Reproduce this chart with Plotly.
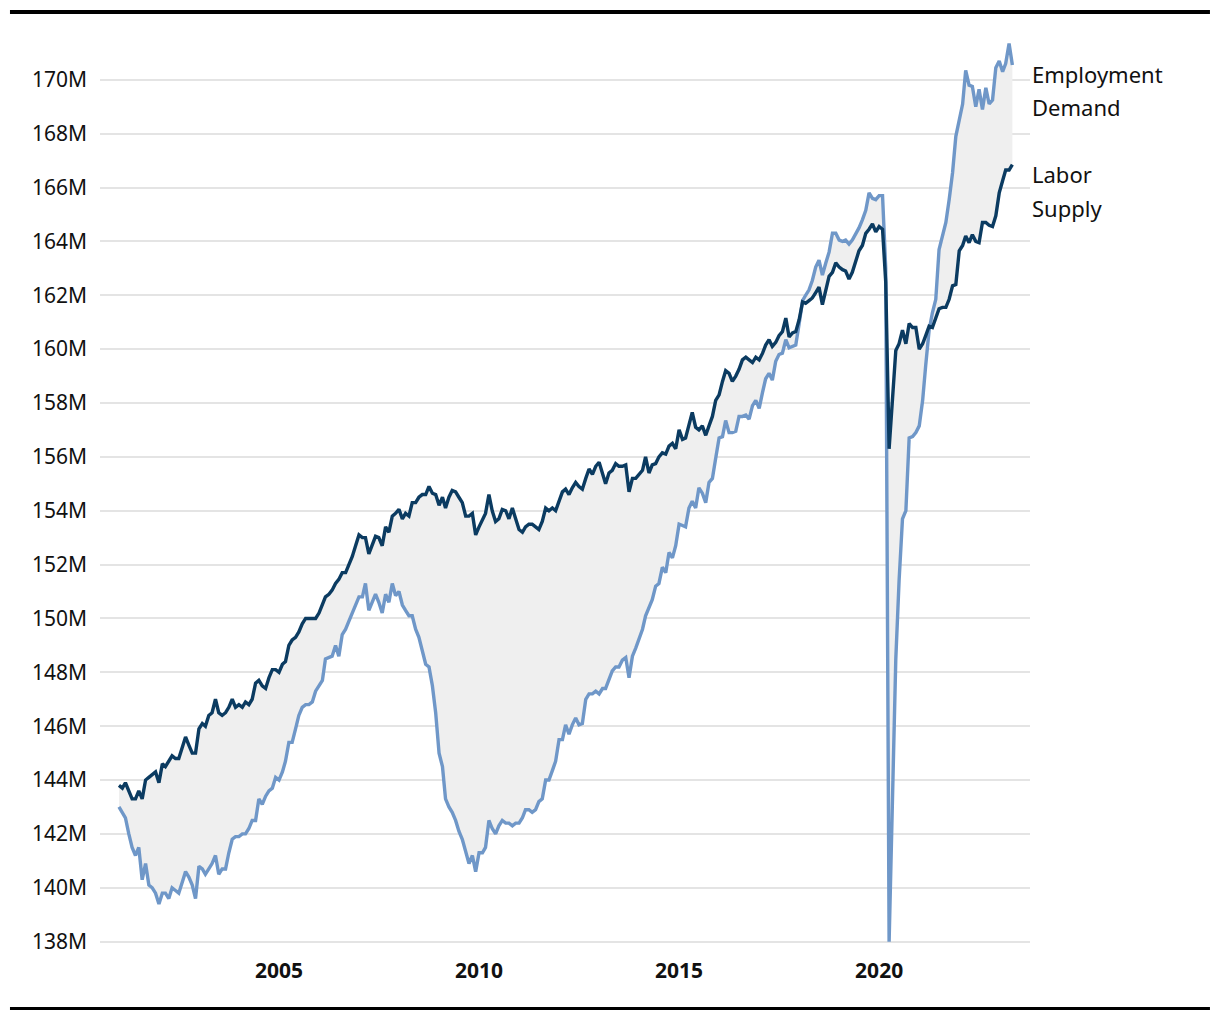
import pandas as pd
import plotly.graph_objects as go

# Monthly series, Jan 2001 .. May 2023 (millions)
start_month = "2001-01-01"

labor_supply = [
    143.8, 143.7, 143.9, 143.6, 143.3, 143.3, 143.6, 143.3, 144.0, 144.1, 144.2, 144.3,
    143.9, 144.6, 144.5, 144.7, 144.9, 144.8, 144.8, 145.2, 145.6, 145.3, 145.0, 145.0,
    145.9, 146.1, 146.0, 146.4, 146.5, 147.0, 146.5, 146.4, 146.5, 146.7, 147.0, 146.7,
    146.8, 146.7, 146.9, 146.8, 147.0, 147.6, 147.7, 147.5, 147.4, 147.8, 148.1, 148.1,
    148.0, 148.3, 148.4, 149.0, 149.2, 149.3, 149.5, 149.8, 150.0, 150.0, 150.0, 150.0,
    150.2, 150.5, 150.8, 150.9, 151.05, 151.3, 151.45, 151.7, 151.7, 152.0, 152.3, 152.7,
    153.1, 153.0, 153.0, 152.4, 152.7, 153.05, 153.0, 152.7, 153.4, 153.2, 153.8, 153.9,
    154.05, 153.7, 153.9, 153.8, 154.3, 154.3, 154.5, 154.6, 154.6, 154.9, 154.65, 154.6,
    154.2, 154.5, 154.1, 154.5, 154.75, 154.7, 154.5, 154.3, 153.8, 153.8, 153.9, 153.1,
    153.4, 153.7, 153.9, 154.6, 154.0, 153.6, 153.7, 154.05, 154.0, 153.7, 154.1, 153.7,
    153.3, 153.2, 153.4, 153.5, 153.5, 153.4, 153.3, 153.6, 154.1, 154.0, 154.1, 154.0,
    154.4, 154.7, 154.8, 154.6, 154.85, 155.05, 154.9, 154.8, 155.2, 155.55, 155.35, 155.65,
    155.8, 155.35, 155.0, 155.4, 155.5, 155.75, 155.65, 155.65, 155.7, 154.7, 155.2, 155.2,
    155.35, 155.5, 156.0, 155.4, 155.7, 155.75, 156.0, 156.15, 156.1, 156.4, 156.5, 156.3,
    157.0, 156.65, 156.7, 157.15, 157.65, 157.1, 157.0, 157.15, 156.8, 157.15, 157.5, 158.1,
    158.3, 158.8, 159.2, 159.1, 158.8, 159.0, 159.25, 159.6, 159.7, 159.6, 159.5, 159.7,
    159.6, 159.85, 160.15, 160.35, 160.1, 160.25, 160.5, 160.65, 161.15, 160.45, 160.6, 160.65,
    161.1, 161.75, 161.7, 161.8, 161.9, 162.1, 162.3, 161.65, 162.15, 162.7, 162.85, 163.2,
    163.05, 162.95, 162.9, 162.6, 162.85, 163.25, 163.65, 163.85, 164.3, 164.45, 164.65, 164.35,
    164.55, 164.45, 162.5, 156.3, 158.3, 159.95, 160.2, 160.7, 160.2, 160.95, 160.8, 160.8,
    160.0, 160.2, 160.5, 160.85, 160.8, 161.2, 161.5, 161.55, 161.55, 161.85, 162.35, 162.4,
    163.65, 163.85, 164.2, 163.95, 164.25, 164.0, 163.95, 164.7, 164.7, 164.6, 164.55, 164.95,
    165.8, 166.25, 166.65, 166.65, 166.85,
]

employment_demand = [
    143.0, 142.8, 142.6, 142.0, 141.5, 141.2, 141.5, 140.3, 140.9, 140.1, 140.0, 139.8,
    139.4, 139.8, 139.8, 139.6, 140.0, 139.9, 139.8, 140.2, 140.6, 140.4, 140.1, 139.6,
    140.8, 140.7, 140.5, 140.7, 140.9, 141.2, 140.5, 140.7, 140.7, 141.3, 141.8, 141.9,
    141.9, 142.0, 142.0, 142.2, 142.5, 142.5, 143.3, 143.1, 143.4, 143.6, 143.7, 144.1,
    144.0, 144.3, 144.7, 145.4, 145.4, 145.9, 146.4, 146.7, 146.8, 146.8, 146.9, 147.3,
    147.5, 147.7, 148.5, 148.55, 148.6, 149.0, 148.6, 149.4, 149.6, 149.9, 150.2, 150.5,
    150.8, 150.8, 151.3, 150.3, 150.6, 150.9, 150.6, 150.2, 150.9, 150.6, 151.3, 150.85,
    151.0, 150.5, 150.3, 150.1, 150.1, 149.6, 149.3, 148.85, 148.3, 148.2, 147.5, 146.5,
    145.0, 144.5, 143.3, 143.0, 142.8, 142.5, 142.1, 141.8, 141.3, 140.9, 141.2, 140.6,
    141.3, 141.3, 141.5, 142.5, 142.2, 142.0, 142.3, 142.5, 142.4, 142.4, 142.3, 142.4,
    142.4, 142.6, 142.9, 142.9, 142.8, 142.9, 143.2, 143.3, 144.0, 144.0, 144.35, 144.7,
    145.5, 145.5, 146.05, 145.7, 146.05, 146.3, 146.05, 146.1, 147.0, 147.2, 147.2, 147.3,
    147.2, 147.4, 147.4, 147.7, 148.05, 148.2, 148.2, 148.45, 148.55, 147.8, 148.6, 148.9,
    149.25, 149.6, 150.1, 150.4, 150.7, 151.2, 151.3, 151.9, 151.7, 152.45, 152.25, 152.7,
    153.5, 153.45, 153.4, 154.1, 154.35, 154.1, 154.85, 154.65, 154.3, 155.05, 155.2, 155.95,
    156.7, 156.75, 157.35, 156.9, 156.9, 156.95, 157.5, 157.5, 157.55, 157.4, 157.9, 158.1,
    157.8, 158.4, 158.9, 159.1, 158.85, 159.55, 159.8, 159.85, 160.35, 160.05, 160.1, 160.15,
    160.95, 161.8, 162.0, 162.2, 162.55, 163.05, 163.3, 162.75, 163.2, 163.6, 164.3, 164.3,
    164.05, 164.0, 164.05, 163.9, 164.05, 164.25, 164.5, 164.8, 165.15, 165.8, 165.6, 165.55,
    165.7, 165.7, 163.0, 138.0, 143.5, 148.5, 151.4, 153.7, 154.0, 156.7, 156.75, 156.9,
    157.15, 158.1, 159.4, 160.7, 161.35, 161.85, 163.7, 164.15, 164.7, 165.55, 166.55, 167.9,
    168.5, 169.1, 170.35, 169.8, 169.75, 169.0, 169.65, 168.9, 169.7, 169.1, 169.25, 170.45,
    170.7, 170.3, 170.6, 171.35, 170.55,
]

y_tick_values = list(range(138, 171, 2))
y_tick_labels = [f"{v}M" for v in y_tick_values]
x_tick_values = ["2005-01-01", "2010-01-01", "2015-01-01", "2020-01-01"]
x_tick_labels = ["2005", "2010", "2015", "2020"]

assert len(labor_supply) == len(employment_demand)
dates = pd.date_range(start_month, periods=len(labor_supply), freq="MS")

DARK = "#0b3b61"
LIGHT = "#6f97c8"
FILL = "#efefef"
FONT = "Noto Sans, Lato, sans-serif"

fig = go.Figure()
# shaded band between the two series
fig.add_trace(go.Scatter(x=dates, y=employment_demand, mode="lines",
                         line=dict(width=0, color="rgba(0,0,0,0)"),
                         hoverinfo="skip", showlegend=False))
fig.add_trace(go.Scatter(x=dates, y=labor_supply, mode="lines",
                         line=dict(width=0, color="rgba(0,0,0,0)"),
                         fill="tonexty", fillcolor=FILL,
                         hoverinfo="skip", showlegend=False))
# lines
fig.add_trace(go.Scatter(x=dates, y=employment_demand, mode="lines",
                         name="Employment Demand",
                         line=dict(width=3.4, color=LIGHT), showlegend=False))
fig.add_trace(go.Scatter(x=dates, y=labor_supply, mode="lines",
                         name="Labor Supply",
                         line=dict(width=3.4, color=DARK), showlegend=False))

fig.update_layout(
    width=1204, height=1004,
    margin=dict(l=92, r=182, t=26, b=69),
    paper_bgcolor="white", plot_bgcolor="white",
    font=dict(family=FONT, color="#111111"),
    xaxis=dict(
        range=["2000-07-12", "2023-10-09"],
        showgrid=False, zeroline=False, showline=False,
        tickmode="array", tickvals=x_tick_values, ticktext=x_tick_labels,
        tickfont=dict(size=21, family=FONT, color="#111111", weight="bold"),
        ticks="", ticklabelstandoff=13,
    ),
    yaxis=dict(
        range=[137.95, 171.7],
        showgrid=True, gridcolor="#e4e4e4", gridwidth=2,
        zeroline=False, showline=False,
        tickmode="array", tickvals=y_tick_values, ticktext=y_tick_labels,
        tickfont=dict(size=21, family=FONT, color="#111111"),
        ticks="", ticklabelstandoff=12,
    ),
    showlegend=False,
)

# labels at right
for text, yv in [("Employment", 170.22), ("Demand", 169.0),
                 ("Labor", 166.5), ("Supply", 165.25)]:
    fig.add_annotation(x=1.0, xref="paper", y=yv, yref="y", text=text,
                       showarrow=False, xanchor="left", yanchor="middle",
                       font=dict(size=22, family=FONT, color="#111111"))

# top and bottom rules
fig.add_shape(type="line", xref="paper", yref="paper",
              x0=-0.0968, x1=1.1935, y0=1.0242, y1=1.0242,
              line=dict(color="black", width=4))
fig.add_shape(type="line", xref="paper", yref="paper",
              x0=-0.0968, x1=1.1935, y0=-0.0721, y1=-0.0721,
              line=dict(color="black", width=3))

fig.write_html("out.html")
